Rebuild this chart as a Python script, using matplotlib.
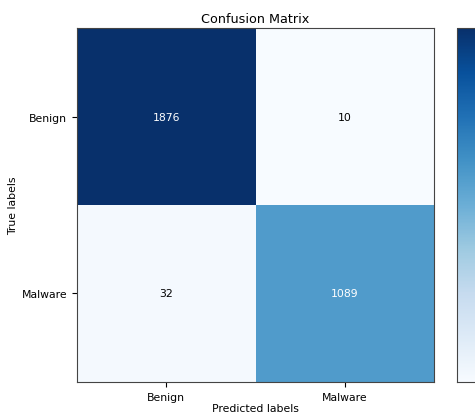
import numpy as np
import matplotlib
matplotlib.use("Agg")
import matplotlib.pyplot as plt

classes = ["Benign", "Malware"]
cm = np.array([[1876, 10],
               [32, 1089]])

fig = plt.figure(figsize=(4.75, 4.14), dpi=100)
ax = fig.add_axes([0.162, 0.0749, 0.752, 0.855])
im = ax.imshow(cm, interpolation="nearest", cmap="Blues", aspect="auto")
ax.set_title("Confusion Matrix", fontsize=9.2, pad=4)
ax.set_xticks(range(len(classes)))
ax.set_yticks(range(len(classes)))
ax.set_xticklabels(classes, fontsize=7.8)
ax.set_yticklabels(classes, fontsize=7.8)
ax.set_xlabel("Predicted labels", fontsize=7.8)
ax.set_ylabel("True labels", fontsize=7.8)
ax.xaxis.set_label_coords(0.5, -0.06)
ax.yaxis.set_label_coords(-0.165, 0.5)
thresh = cm.max() / 2.0
for i in range(cm.shape[0]):
    for j in range(cm.shape[1]):
        ax.text(j, i, str(cm[i, j]), ha="center", va="center", fontsize=7.8,
                color="white" if cm[i, j] > thresh else "black")
for s in ax.spines.values():
    s.set_color("#444444")

cax = fig.add_axes([0.962, 0.0749, 0.045, 0.855])
cb = fig.colorbar(im, cax=cax)
cb.outline.set_edgecolor("#444444")
cax.tick_params(labelright=False, right=False)

fig.savefig("out.png", dpi=100)
